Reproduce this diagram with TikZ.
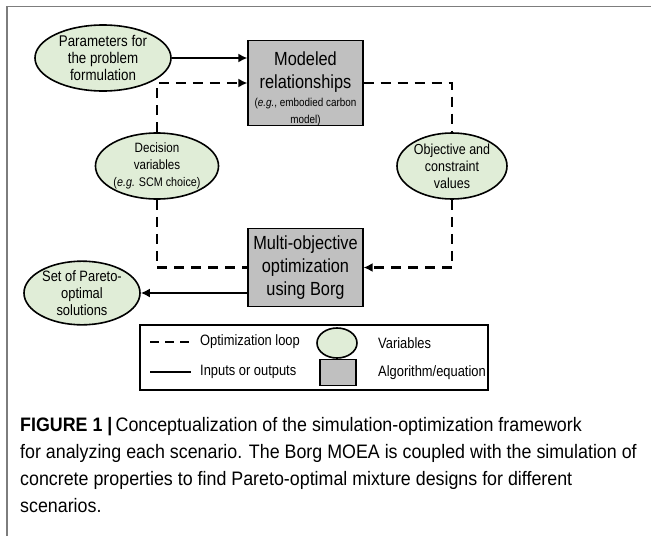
\documentclass[tikz,border=0pt]{standalone}
\usepackage{fontspec}
\setmainfont[FakeStretch=0.86]{Liberation Sans}
\newfontfamily\capfont[FakeStretch=0.915]{Liberation Sans}
\usepackage{tikz}
\usetikzlibrary{shapes.geometric, arrows.meta, positioning}
\definecolor{varcolor}{RGB}{224, 237, 215}
\definecolor{algcolor}{RGB}{192, 192, 192}
\definecolor{framecolor}{RGB}{125, 125, 125}

\begin{document}
\begin{tikzpicture}[x=1pt, y=-1pt,
    varnode/.style={draw, ellipse, fill=varcolor, line width=1.6pt, inner sep=0pt, align=center, font=\fontsize{14.5}{17}\selectfont},
    algnode/.style={draw, fill=algcolor, line width=1.2pt, minimum width=115pt, inner sep=0pt, align=center, font=\fontsize{19}{23}\selectfont},
    loop/.style={dash pattern=on 10pt off 7pt, line width=2.2pt},
    flow/.style={line width=2.2pt},
    arrow/.style={-{Latex[length=9pt, width=9pt]}},
    legendtext/.style={anchor=west, inner sep=0pt, font=\fontsize{15}{19}\selectfont}
]
\useasboundingbox (0,0) rectangle (651,536);

% Frame
\draw[framecolor, line width=1.5pt] (7,536) -- (7,6.5) -- (651,6.5);

% Variables and algorithms
\node[varnode, minimum width=136pt, minimum height=66pt, font=\fontsize{15.5}{17}\selectfont] (params) at (103,58) {Parameters for\\the problem\\formulation};
\node[algnode, minimum height=82pt] (model) at (305.5,83) {\rule{0pt}{25pt}Modeled\\relationships\\[-5pt]\fontsize{11.5}{13}\selectfont(\textit{e.g.}, embodied carbon\\[-6pt]\fontsize{11.5}{13}\selectfont model)};
\node[varnode, minimum width=110pt, minimum height=66pt, font=\fontsize{13.5}{17}\selectfont] (decision) at (157,166) {Decision\\variables\\\fontsize{12.5}{15}\selectfont(\textit{e.g.} SCM choice)};
\node[varnode, minimum width=110pt, minimum height=66pt] (objective) at (452,166) {Objective and\\constraint\\values};
\node[algnode, minimum height=78pt] (borg) at (305.5,267.5) {Multi-objective\\optimization\\using Borg};
\node[varnode, minimum width=116pt, minimum height=62pt, font=\fontsize{15}{17}\selectfont] (pareto) at (82,293) {Set of Pareto-\\optimal\\solutions};

% Flow
\draw[flow, arrow] (params.east) -- (params.east -| model.west);
\draw[loop, arrow] (decision.north) |- (model.west);
\draw[loop] (model.east) -| (objective.north);
\draw[loop, arrow] (objective.south) |- (borg.east);
\draw[loop] (decision.south) |- (borg.west);
\draw[flow, arrow] (borg.west |- pareto.east) -- (pareto.east);

% Legend
\node[draw, line width=1.2pt, minimum width=348pt, minimum height=65pt] (legend) at (314,357.5) {};
\coordinate (loopA) at (150,342);
\coordinate (loopB) at (191,342);
\draw[dash pattern=on 9pt off 6pt, line width=2.2pt] (loopA) -- (loopB);
\node[legendtext] (looptext) at (200,342) {Optimization loop};
\node[varnode, minimum width=40pt, minimum height=30pt] (varkey) at (337,343) {};
\node[legendtext] (vartext) at (378,343) {Variables};
\coordinate (flowA) at (150,372);
\coordinate (flowB) at (191,372);
\draw[flow] (flowA) -- (flowB);
\node[legendtext] (flowtext) at (200,372) {Inputs or outputs};
\node[algnode, minimum width=36pt, minimum height=26pt] (algkey) at (338,372.5) {};
\node[legendtext] (algtext) at (378,373) {Algorithm/equation};

% Caption
\node[anchor=north west, align=left, inner sep=0pt, font=\capfont\fontsize{19.5}{27}\selectfont] (caption) at (20,417)
  {\textbf{FIGURE 1 |}\,Conceptualization of the simulation-optimization framework\\
   for analyzing each scenario. The Borg MOEA is coupled with the simulation of\\
   concrete properties to find Pareto-optimal mixture designs for different\\
   scenarios.};

\end{tikzpicture}
\end{document}
